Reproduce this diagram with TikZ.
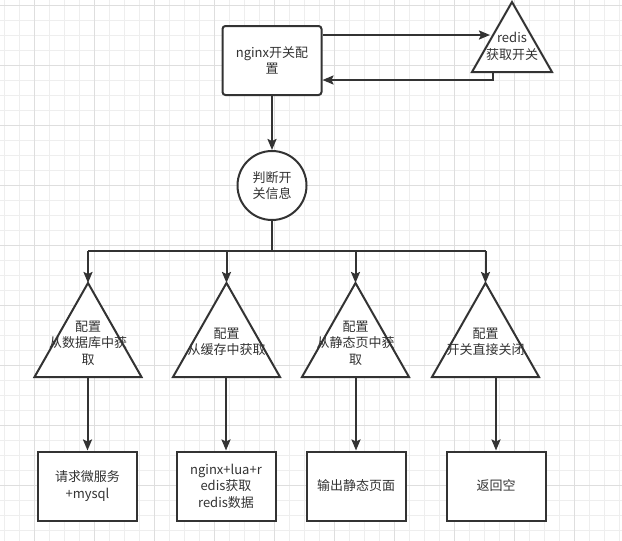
\documentclass[tikz,border=0pt]{standalone}
\usepackage{fontspec}
\newfontfamily\cjk{Noto Sans CJK SC}
\usetikzlibrary{arrows.meta}
\definecolor{lineGray}{HTML}{333333}
\definecolor{gridLight}{HTML}{EEEEEE}
\definecolor{gridDark}{HTML}{DEDEDE}

\begin{document}
\begin{tikzpicture}[x=1pt, y=-1pt,
    lbl/.style={font=\cjk\fontsize{13}{16.5}\selectfont, text=lineGray, align=center, inner sep=0pt},
    box/.style={lbl, draw=lineGray, line width=2pt, fill=white, minimum width=99pt, minimum height=69pt},
    wire/.style={draw=lineGray, line width=2pt},
    flow/.style={wire, -{Stealth[length=11pt, width=9pt, inset=2pt]}}]
    \useasboundingbox (0,0) rectangle (622,541);
    \fill[white] (0,0) rectangle (622,541);
    % grid
    \foreach \gx in {4,19,...,619} \draw[gridLight, line width=0.8pt] (\gx,0) -- (\gx,541);
    \foreach \gy in {5,20,...,530} \draw[gridLight, line width=0.8pt] (0,\gy) -- (622,\gy);
    \foreach \gx in {34,94,...,574} \draw[gridDark, line width=0.8pt] (\gx,0) -- (\gx,541);
    \foreach \gy in {5,65,...,485} \draw[gridDark, line width=0.8pt] (0,\gy) -- (622,\gy);

    % top part
    \node[box, rounded corners=3pt] (cfg) at (272,60.5) {nginx开关配\\置};
    \draw[wire, fill=white] (512,2) -- (552,72) -- (472,72) -- cycle;
    \node[lbl] (redis) at (512,46.5) {redis\\获取开关};
    \coordinate (rin) at (490,35);
    \coordinate (rout) at (493,72);
    \draw[flow] ([yshift=25.5pt]cfg.east) -- (rin);
    \draw[flow] (rout) |- ([yshift=-19.5pt]cfg.east);

    \node[lbl, draw=lineGray, line width=2pt, fill=white, circle, minimum size=69pt] (judge) at (272,185.5) {判断开\\关信息};
    \draw[flow] (cfg.south) -- (judge.north);

    % branches
    \draw[wire, fill=white] (88,283) coordinate (t1top) -- (141.5,377) -- (34.5,377) -- cycle;
    \draw[wire, fill=white] (226.5,283) coordinate (t2top) -- (280,377) -- (173,377) -- cycle;
    \draw[wire, fill=white] (355.5,283) coordinate (t3top) -- (409,377) -- (302,377) -- cycle;
    \draw[wire, fill=white] (485.5,283) coordinate (t4top) -- (539,377) -- (432,377) -- cycle;
    \node[lbl] (t1) at (88,343) {配置\\从数据库中获\\取};
    \node[lbl] (t2) at (226.5,342) {配置\\从缓存中获取};
    \node[lbl] (t3) at (355.5,343) {配置\\从静态页中获\\取};
    \node[lbl] (t4) at (485.5,342) {配置\\开关直接关闭};

    \coordinate (bus) at (272,251);
    \draw[wire] (judge.south) -- (bus);
    \draw[wire] (t1top |- bus) -- (t4top |- bus);
    \foreach \t in {t1top,t2top,t3top,t4top}
        \draw[flow] (\t |- bus) -- (\t);

    \node[box] (b1) at (87.5,486) {请求微服务\\+mysql};
    \node[box] (b2) at (226,486) {nginx+lua+r\\edis获取\\redis数据};
    \node[box] (b3) at (356,486) {输出静态页面};
    \node[box] (b4) at (496,486) {返回空};

    \coordinate (t1bot) at (87.5,377);
    \coordinate (t2bot) at (226,377);
    \coordinate (t3bot) at (356,377);
    \coordinate (t4bot) at (496,377);
    \draw[flow] (t1bot) -- (b1.north);
    \draw[flow] (t2bot) -- (b2.north);
    \draw[flow] (t3bot) -- (b3.north);
    \draw[flow] (t4bot) -- (b4.north);
\end{tikzpicture}
\end{document}
